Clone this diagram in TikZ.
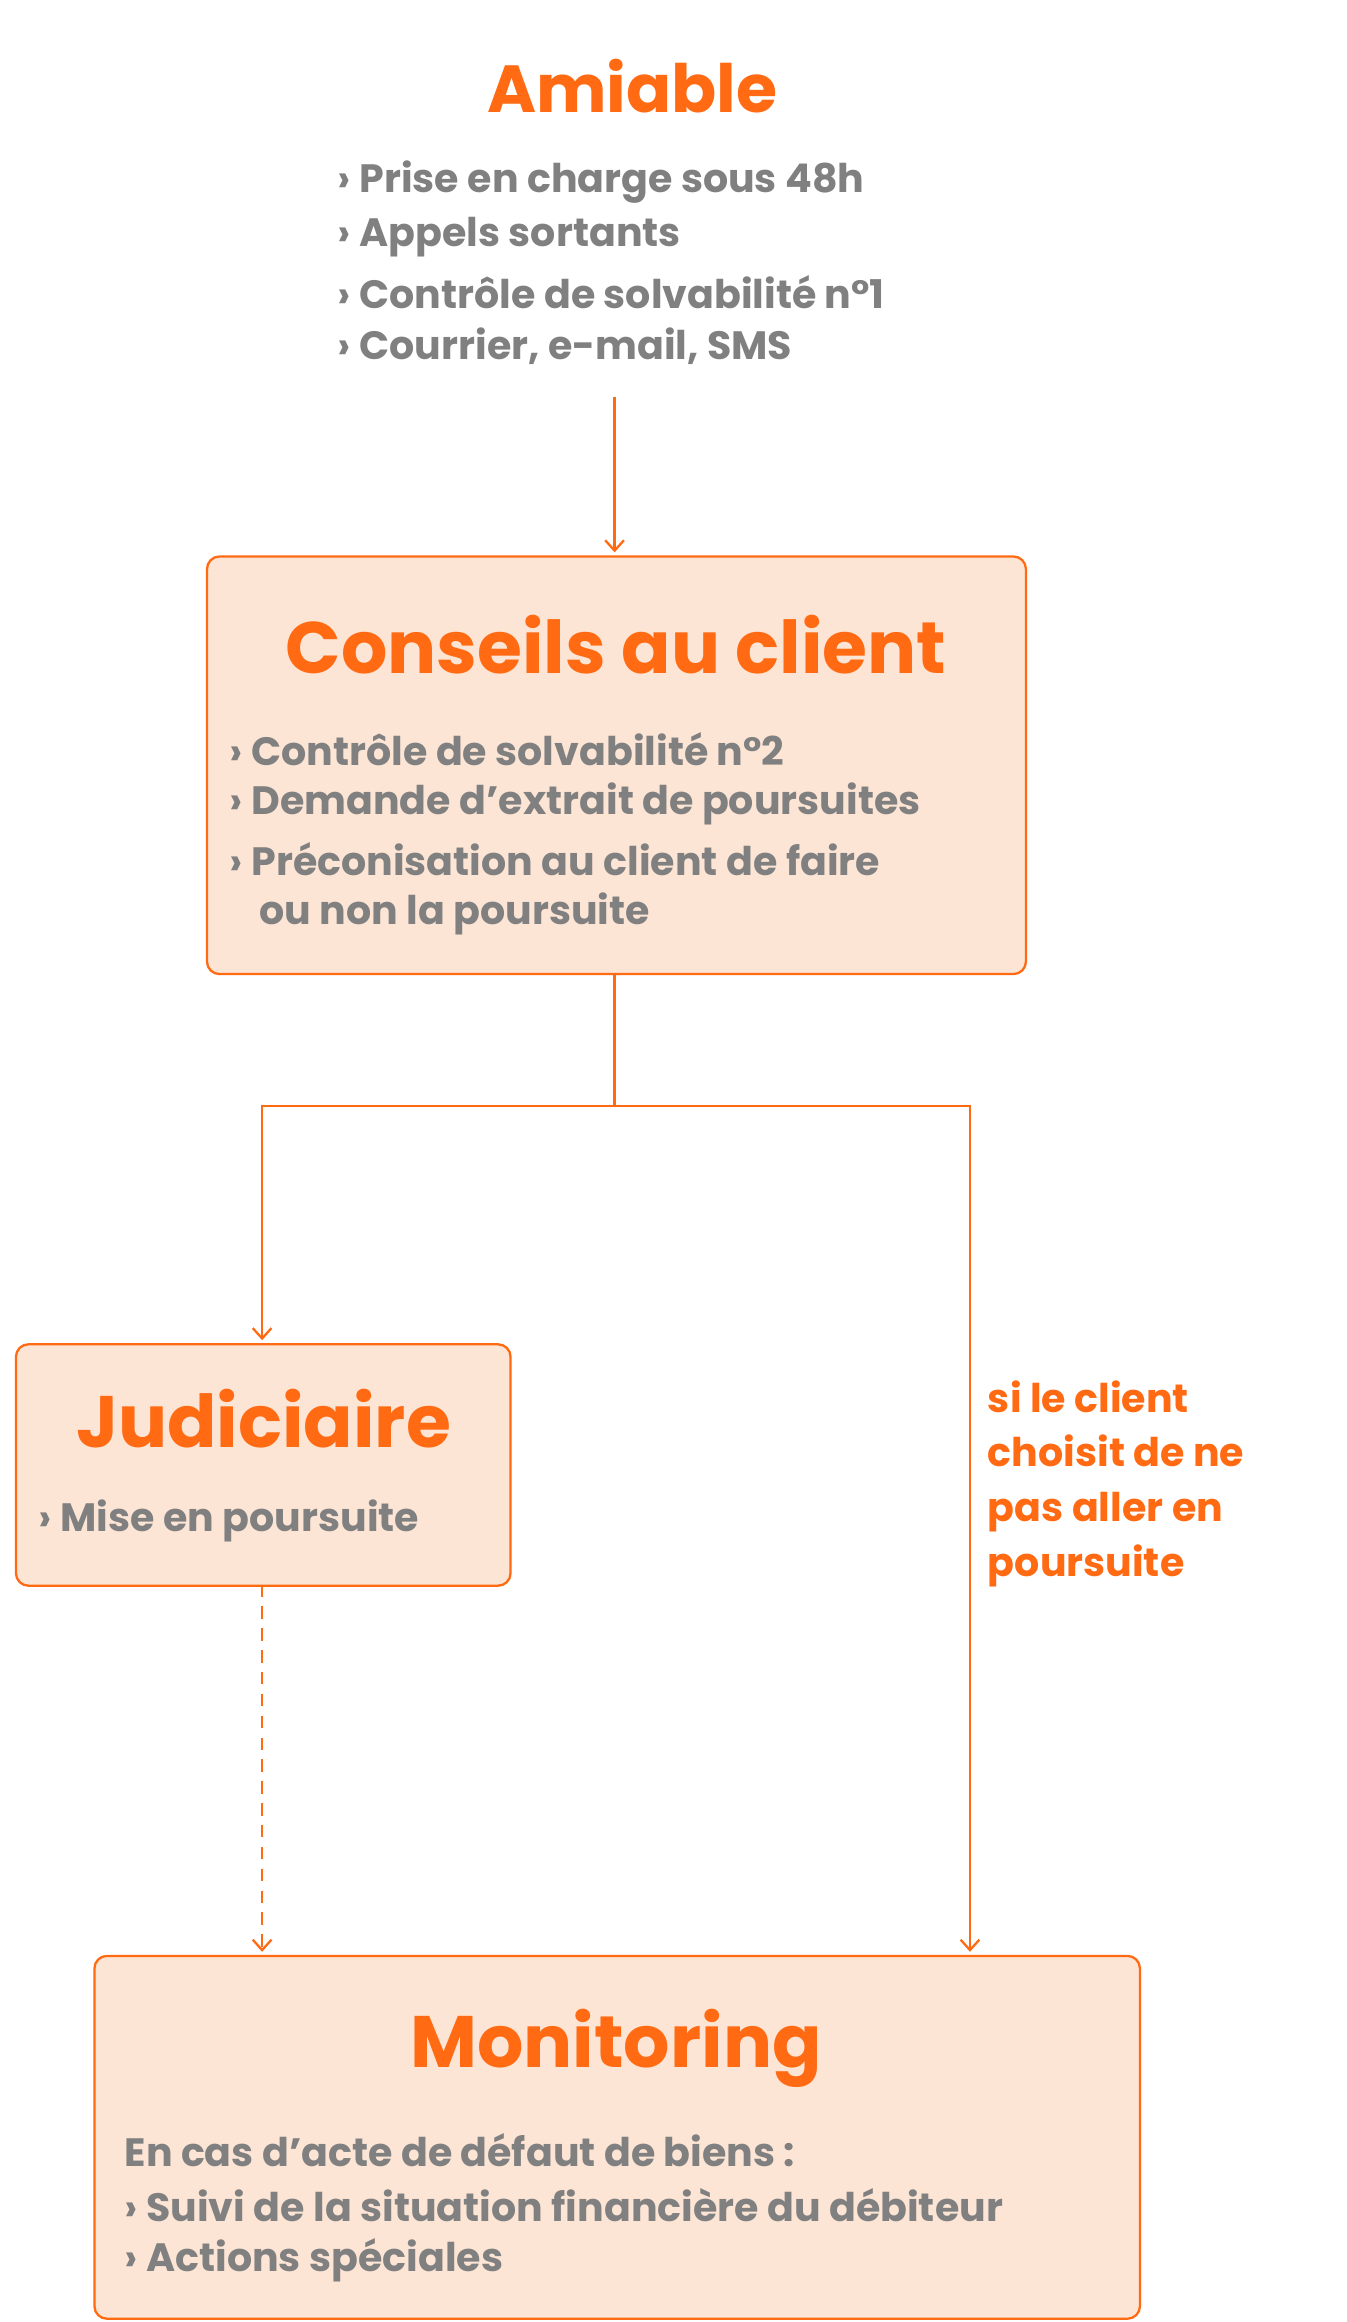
\documentclass[tikz,border=0pt]{standalone}
\usepackage{fontspec}
\usetikzlibrary{arrows.meta}
\setmainfont{Poppins}
\definecolor{org}{HTML}{FF6A13}
\definecolor{gry}{HTML}{808080}
\definecolor{pch}{HTML}{FDE5D5}
\begin{document}
\begin{tikzpicture}[x=0.05cm,y=-0.05cm,
 box/.style={draw=org,fill=pch,line width=2.2pt,rounded corners=12pt},
 ttl/.style={text=org,font=\fontsize{70}{80}\selectfont\bfseries,inner sep=0},
 bul/.style={text=gry,font=\fontsize{38}{52.6}\selectfont\bfseries,inner sep=0,anchor=west,align=left},
 lbl/.style={text=org,font=\fontsize{38}{52.6}\selectfont\bfseries,inner sep=0,anchor=north west,align=left},
 conn/.style={draw=org,line width=2.2pt},
 arr/.style={conn,-{Straight Barb[length=10pt,width=18pt]}}]
\useasboundingbox (0,0) rectangle (909,1568);
\node[box,minimum width=553*0.05cm,minimum height=282*0.05cm,anchor=north west] (c) at (139,375) {};
\node[box,minimum width=334*0.05cm,minimum height=163*0.05cm,anchor=north west] (j) at (10,907) {};
\node[box,minimum width=706*0.05cm,minimum height=245*0.05cm,anchor=north west] (m) at (63,1320) {};
\node[ttl,font=\fontsize{64}{70}\selectfont\bfseries] (at) at (427,58) {Amiable};
\node[bul] (a1) at (228,123) {› Prise en charge sous 48h};
\node[bul] (a2) at (228,160) {› Appels sortants};
\node[bul] (a3) at (228,197) {› Contrôle de solvabilité n°1};
\node[bul] (a4) at (228,234) {› Courrier, e-mail, SMS};
\node[ttl] (ct) at (416,435) {Conseils au client};
\node[bul] (c1) at (155,506) {› Contrôle de solvabilité n°2};
\node[bul] (c2) at (155,543) {› Demande d’extrait de poursuites};
\node[bul] (c3) at (155,580) {› Préconisation au client de faire};
\node[bul] (c4) at (175,617) {ou non la poursuite};
\node[ttl] (jt) at (178,958) {Judiciaire};
\node[bul] (j1) at (26,1027) {› Mise en poursuite};
\node[ttl] (mt) at (416,1383) {Monitoring};
\node[bul] (m1) at (84,1452) {En cas d’acte de défaut de biens :};
\node[bul] (m2) at (84,1489) {› Suivi de la situation financière du débiteur};
\node[bul] (m3) at (84,1526) {› Actions spéciales};
\node[lbl] (l) at (667,932) {si le client\\choisit de ne\\pas aller en\\poursuite};
\coordinate (a0) at (415,268);
\coordinate (s) at (415,747);
\coordinate (sl) at (177,747);
\coordinate (sr) at (655,747);
\draw[arr] (a0) -- (415,373);
\draw[conn] (415,657) -- (s);
\draw[arr] (s) -- (sl) -- (177,905);
\draw[arr] (s) -- (sr) -- (655,1318);
\draw[arr,dashed,dash pattern=on 12pt off 9pt] (177,1070) -- (177,1318);
\end{tikzpicture}
\end{document}
